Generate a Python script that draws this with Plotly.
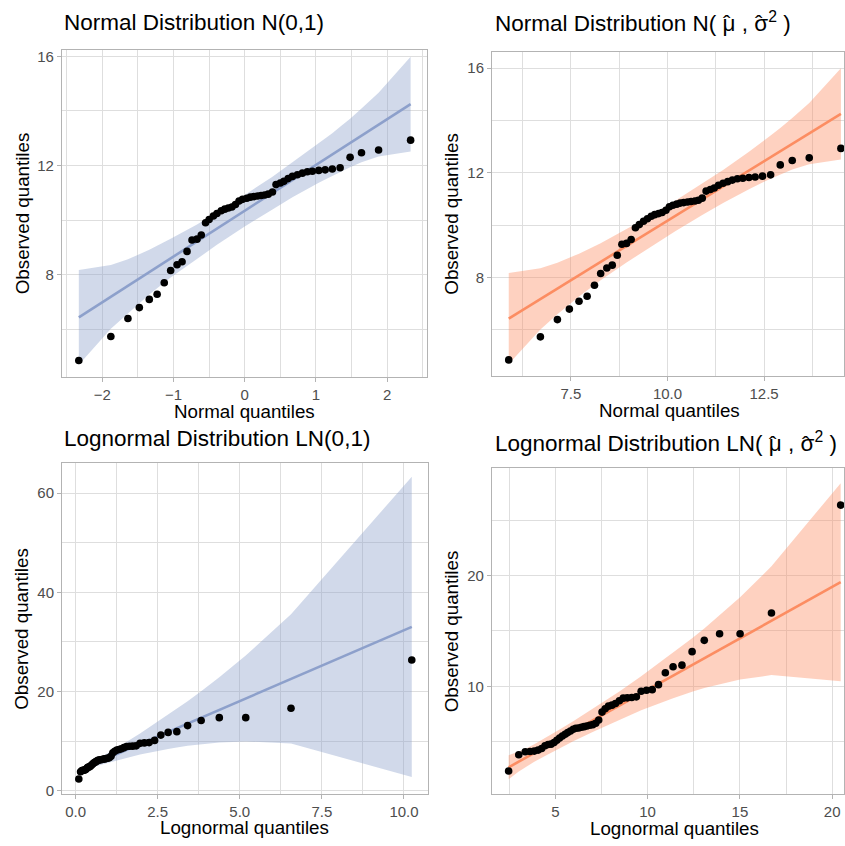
import plotly.graph_objects as go

# ---------------- data ----------------
# theoretical N(0,1) quantiles of the 50 sample points
z_norm = [-2.33, -1.88, -1.64, -1.48, -1.34, -1.23, -1.13, -1.04, -0.95, -0.88,
          -0.81, -0.74, -0.67, -0.61, -0.55, -0.50, -0.44, -0.39, -0.33, -0.28,
          -0.23, -0.18, -0.13, -0.08, -0.03, 0.03, 0.08, 0.13, 0.18, 0.23,
          0.28, 0.33, 0.39, 0.44, 0.50, 0.55, 0.61, 0.67, 0.74, 0.81,
          0.88, 0.95, 1.04, 1.13, 1.23, 1.34, 1.48, 1.64, 1.88, 2.33]
# theoretical N(mu_hat, sigma_hat^2) quantiles
x_norm_fit = [5.89, 6.71, 7.15, 7.46, 7.71, 7.92, 8.11, 8.27, 8.43, 8.57,
              8.70, 8.82, 8.94, 9.06, 9.17, 9.27, 9.38, 9.48, 9.58, 9.67,
              9.77, 9.86, 9.96, 10.05, 10.14, 10.24, 10.33, 10.42, 10.52, 10.61,
              10.71, 10.80, 10.90, 11.00, 11.11, 11.21, 11.32, 11.44, 11.56, 11.68,
              11.81, 11.95, 12.11, 12.27, 12.46, 12.67, 12.92, 13.23, 13.67, 14.49]
# observed (sorted) sample, normal panels
obs_norm = [4.85, 5.73, 6.39, 6.79, 7.09, 7.28, 7.70, 8.15, 8.36, 8.47,
            8.85, 9.27, 9.30, 9.45, 9.90, 10.02, 10.15, 10.24, 10.34, 10.40,
            10.44, 10.48, 10.57, 10.70, 10.76, 10.80, 10.84, 10.86, 10.88, 10.90,
            10.92, 10.95, 11.03, 11.30, 11.36, 11.42, 11.52, 11.60, 11.66, 11.72,
            11.77, 11.79, 11.82, 11.84, 11.87, 11.92, 12.30, 12.47, 12.57, 12.93]
# theoretical LN(0,1) quantiles
x_ln_std = [0.098, 0.152, 0.193, 0.229, 0.262, 0.293, 0.324, 0.355, 0.385, 0.416,
            0.447, 0.478, 0.510, 0.542, 0.575, 0.609, 0.644, 0.681, 0.718, 0.757,
            0.796, 0.839, 0.882, 0.928, 0.975, 1.025, 1.078, 1.134, 1.192, 1.256,
            1.322, 1.394, 1.470, 1.553, 1.642, 1.739, 1.846, 1.962, 2.094, 2.239,
            2.406, 2.596, 2.818, 3.083, 3.411, 3.823, 4.376, 5.181, 6.560, 10.237]
# theoretical LN(mu_hat, sigma_hat^2) quantiles
x_ln_fit = [2.47, 3.02, 3.37, 3.63, 3.86, 4.07, 4.26, 4.44, 4.61, 4.77,
            4.93, 5.08, 5.23, 5.38, 5.53, 5.67, 5.82, 5.97, 6.11, 6.26,
            6.41, 6.56, 6.71, 6.87, 7.03, 7.19, 7.35, 7.53, 7.70, 7.88,
            8.07, 8.26, 8.47, 8.68, 8.90, 9.14, 9.39, 9.65, 9.94, 10.25,
            10.59, 10.96, 11.38, 11.86, 12.41, 13.07, 13.90, 15.01, 16.71, 20.46]
# observed (sorted) sample, lognormal panels
obs_ln = [2.36, 3.82, 4.09, 4.12, 4.15, 4.24, 4.39, 4.63, 4.75, 4.78,
          4.93, 5.13, 5.34, 5.52, 5.67, 5.82, 5.97, 6.12, 6.21, 6.24,
          6.30, 6.36, 6.42, 6.48, 6.54, 6.66, 6.96, 7.67, 7.97, 8.21,
          8.30, 8.45, 8.69, 8.93, 8.96, 8.99, 9.05, 9.55, 9.64, 9.70,
          10.15, 11.22, 11.76, 11.91, 13.13, 14.15, 14.74, 14.74, 16.62, 26.36]

# reference lines (y at the first and last theoretical quantile)
line_norm_y = [6.43, 14.25]
line_ln_std_y = [4.08, 33.05]
line_ln_fit_y = [2.69, 19.40]

# confidence bands (x positions and lower / upper limits)
band_norm_z = [-2.33, -1.88, -1.64, -1.34, -1.04, -0.67, -0.39, 0.0, 0.39, 0.67,
               1.04, 1.13, 1.23, 1.34, 1.48, 1.64, 1.88, 2.33]
band_norm_fit_x = [5.89, 6.71, 7.15, 7.71, 8.27, 8.94, 9.48, 10.19, 10.90, 11.44,
                   12.11, 12.27, 12.46, 12.67, 12.92, 13.23, 13.67, 14.49]
band_norm_lo = [4.69, 6.01, 6.59, 7.27, 7.89, 8.57, 9.09, 9.76, 10.39, 10.84,
                11.37, 11.49, 11.63, 11.77, 11.94, 12.12, 12.33, 12.51]
band_norm_hi = [8.17, 8.35, 8.56, 8.91, 9.31, 9.84, 10.29, 10.92, 11.59, 12.11,
                12.80, 12.97, 13.18, 13.42, 13.71, 14.09, 14.67, 15.99]
band_ln_std_x = [0.098, 0.152, 0.193, 0.262, 0.355, 0.510, 0.681, 1.0, 1.470, 1.962,
                 2.818, 3.083, 3.411, 3.823, 4.376, 5.181, 6.560, 10.237]
band_ln_std_lo = [3.79, 3.93, 4.03, 4.18, 4.38, 4.71, 5.05, 5.66, 6.50, 7.29,
                  8.43, 8.73, 9.05, 9.38, 9.71, 9.93, 9.51, 2.78]
band_ln_std_hi = [4.37, 4.54, 4.67, 4.91, 5.24, 5.81, 6.44, 7.65, 9.50, 11.52,
                  15.27, 16.49, 18.04, 20.06, 22.89, 27.27, 35.57, 63.32]
band_ln_fit_x = [2.47, 3.02, 3.37, 3.86, 4.44, 5.23, 5.97, 7.11, 8.47, 9.65,
                 11.38, 11.86, 12.41, 13.07, 13.90, 15.01, 16.71, 20.46]
band_ln_fit_lo = [1.61, 2.32, 2.69, 3.19, 3.72, 4.42, 5.04, 5.95, 6.98, 7.83,
                  8.93, 9.20, 9.51, 9.84, 10.21, 10.62, 11.01, 10.46]
band_ln_fit_hi = [3.77, 4.09, 4.35, 4.78, 5.31, 6.09, 6.84, 8.04, 9.54, 10.90,
                  13.01, 13.61, 14.34, 15.23, 16.40, 18.05, 20.83, 28.34]

# tick labels
p1_xticks = [-2, -1, 0, 1, 2]
p1_xlabels = ["\u22122", "\u22121", "0", "1", "2"]
norm_yticks = [8, 12, 16]
norm_ylabels = ["8", "12", "16"]
p2_xticks = [7.5, 10.0, 12.5]
p2_xlabels = ["7.5", "10.0", "12.5"]
p3_xticks = [0, 2.5, 5, 7.5, 10]
p3_xlabels = ["0.0", "2.5", "5.0", "7.5", "10.0"]
p3_yticks = [0, 20, 40, 60]
p3_ylabels = ["0", "20", "40", "60"]
p4_xticks = [5, 10, 15, 20]
p4_xlabels = ["5", "10", "15", "20"]
p4_yticks = [10, 20]
p4_ylabels = ["10", "20"]

titles = ["Normal Distribution N(0,1)",
          "Normal Distribution N( \u03bc , \u03c3<sup>2</sup> )",
          "Lognormal Distribution LN(0,1)",
          "Lognormal Distribution LN( \u03bc , \u03c3<sup>2</sup> )"]
hat = "\u02c6"
x_titles = ["Normal quantiles", "Normal quantiles", "Lognormal quantiles", "Lognormal quantiles"]
y_title = "Observed quantiles"

# ---------------- styling ----------------
W, H = 845, 846
FONT = "Liberation Sans, Arial, Helvetica, sans-serif"
BLUE = "#8DA0CB"
ORANGE = "#FC8D62"
BLUE_FILL = "rgba(141,160,203,0.4)"
ORANGE_FILL = "rgba(252,141,98,0.4)"
GRID = "#DEDEDE"
BORDER = "#B3B3B3"
TSIZE = 22.5


def fx(p):
    return p / W


def fy(p):
    return 1 - p / H


fig = go.Figure()

panels = [
    dict(x=z_norm, y=obs_norm, bx=band_norm_z, blo=band_norm_lo, bhi=band_norm_hi,
         ly=line_norm_y, line=BLUE, fill=BLUE_FILL),
    dict(x=x_norm_fit, y=obs_norm, bx=band_norm_fit_x, blo=band_norm_lo, bhi=band_norm_hi,
         ly=line_norm_y, line=ORANGE, fill=ORANGE_FILL),
    dict(x=x_ln_std, y=obs_ln, bx=band_ln_std_x, blo=band_ln_std_lo, bhi=band_ln_std_hi,
         ly=line_ln_std_y, line=BLUE, fill=BLUE_FILL),
    dict(x=x_ln_fit, y=obs_ln, bx=band_ln_fit_x, blo=band_ln_fit_lo, bhi=band_ln_fit_hi,
         ly=line_ln_fit_y, line=ORANGE, fill=ORANGE_FILL),
]

# pixel geometry of each panel: (left, right, top, bottom)
geom = [(62, 428, 48, 378), (492.7, 845, 50, 376.7),
        (62.2, 428.8, 464.5, 798.7), (492.6, 845, 470.2, 798.7)]
xranges = [[-2.567, 2.567], [5.46, 14.57], [-0.41, 10.74], [1.57, 20.64]]
yranges = [[4.25, 16.25], [4.25, 16.63], [-0.68, 66.16], [0.27, 29.68]]
xt = [(p1_xticks, p1_xlabels), (p2_xticks, p2_xlabels), (p3_xticks, p3_xlabels), (p4_xticks, p4_xlabels)]
yt = [(norm_yticks, norm_ylabels), (norm_yticks, norm_ylabels), (p3_yticks, p3_ylabels), (p4_yticks, p4_ylabels)]
xminor = [[-2.5, -1.5, -0.5, 0.5, 1.5, 2.5], [6.25, 8.75, 11.25, 13.75],
          [1.25, 3.75, 6.25, 8.75], [2.5, 7.5, 12.5, 17.5]]
yminor = [[6, 10, 14], [6, 10, 14], [10, 30, 50], [5, 15, 25]]

for i, p in enumerate(panels):
    k = "" if i == 0 else str(i + 1)
    xa, ya = "x" + k, "y" + k
    fig.add_trace(go.Scatter(x=p["bx"] + p["bx"][::-1], y=p["bhi"] + p["blo"][::-1],
                             fill="toself", fillcolor=p["fill"], line=dict(width=0),
                             mode="lines", hoverinfo="skip", xaxis=xa, yaxis=ya,
                             showlegend=False))
    fig.add_trace(go.Scatter(x=[p["x"][0], p["x"][-1]], y=p["ly"], mode="lines",
                             line=dict(color=p["line"], width=2.6), xaxis=xa, yaxis=ya,
                             showlegend=False))
    fig.add_trace(go.Scatter(x=p["x"], y=p["y"], mode="markers",
                             marker=dict(color="black", size=7.6, line=dict(width=0)),
                             xaxis=xa, yaxis=ya, showlegend=False))

    l, r, t, b = geom[i]
    common = dict(showline=True, mirror=True, linecolor=BORDER, linewidth=1.2,
                  ticks="outside", ticklen=4, tickwidth=1, tickcolor=BORDER,
                  showgrid=True, gridcolor=GRID, gridwidth=1, zeroline=False,
                  tickfont=dict(family=FONT, size=15, color="#4D4D4D"),
                  tickmode="array")
    fig.layout["xaxis" + k] = dict(common, domain=[fx(l), min(fx(r), 1.0)], range=xranges[i],
                                   anchor=ya, tickvals=xt[i][0], ticktext=xt[i][1],
                                   minor=dict(tickvals=xminor[i], showgrid=True,
                                              gridcolor=GRID, gridwidth=0.8, ticks=""))
    fig.layout["yaxis" + k] = dict(common, domain=[fy(b), fy(t)], range=yranges[i],
                                   anchor=xa, tickvals=yt[i][0], ticktext=yt[i][1],
                                   minor=dict(tickvals=yminor[i], showgrid=True,
                                              gridcolor=GRID, gridwidth=0.8, ticks=""))

annots = []
title_pos = [(62, 21), (494, 20), (62, 440), (494, 444)]
for (x0, y0), txt in zip(title_pos, titles):
    annots.append(dict(text=txt, x=fx(x0), y=fy(y0), xref="paper", yref="paper",
                       xanchor="left", yanchor="middle", showarrow=False,
                       font=dict(family=FONT, size=TSIZE, color="black")))
# hats over mu and sigma (offsets from the title start in em, Arial/Liberation metrics)
hat_offsets = [(title_pos[1], 10.112), (title_pos[3], 12.170)]
for (x0, y0), pre in hat_offsets:
    mu_c = x0 + (pre + 0.288) * TSIZE
    sg_c = x0 + (pre + 0.576 + 0.834 + 0.31) * TSIZE
    for c in (mu_c, sg_c):
        annots.append(dict(text=hat, x=fx(c), y=fy(y0 + 2), xref="paper", yref="paper",
                           xanchor="center", yanchor="middle", showarrow=False,
                           font=dict(family=FONT, size=TSIZE, color="black")))
xt_pos = [(245, 413), (670, 412), (245, 832), (675, 833)]
for (x0, y0), txt in zip(xt_pos, x_titles):
    annots.append(dict(text=txt, x=fx(x0), y=fy(y0), xref="paper", yref="paper",
                       xanchor="center", yanchor="middle", showarrow=False,
                       font=dict(family=FONT, size=18.75, color="black")))
yt_pos = [(22, 213), (452, 213), (22, 632), (452, 634)]
for x0, y0 in yt_pos:
    annots.append(dict(text=y_title, x=fx(x0), y=fy(y0), xref="paper", yref="paper",
                       xanchor="center", yanchor="middle", textangle=-90, showarrow=False,
                       font=dict(family=FONT, size=18.75, color="black")))

fig.update_layout(width=W, height=H, margin=dict(l=0, r=0, t=0, b=0),
                  paper_bgcolor="white", plot_bgcolor="white",
                  annotations=annots, showlegend=False)

fig.write_html("out.html", config={"displayModeBar": False},
               post_script="document.body.style.margin='0';document.body.style.overflow='hidden';")
